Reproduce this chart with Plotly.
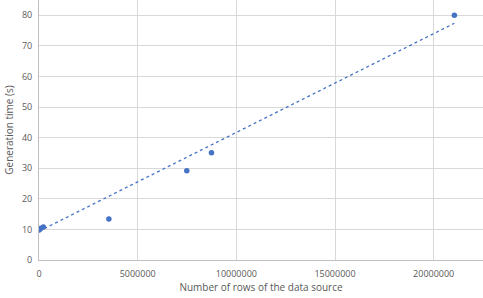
import numpy as np
import plotly.graph_objects as go

rows = [1000, 10000, 100000, 220000, 3540000, 7490000, 8740000, 21050000]
gen_time = [9.8, 10.0, 10.4, 10.8, 13.4, 29.2, 35.1, 80.0]

# linear trendline parameters
trend_intercept = 9.4
trend_slope = 3.23e-6

x_title = "Number of rows of the data source"
y_title = "Generation time (s)"

tx = np.array([min(rows), max(rows)])
ty = trend_intercept + trend_slope * tx

blue = "#4472C4"
fig = go.Figure()
fig.add_trace(go.Scatter(x=tx, y=ty, mode="lines",
                         line=dict(color=blue, width=1.3, dash="dot"),
                         hoverinfo="skip", showlegend=False))
fig.add_trace(go.Scatter(x=rows, y=gen_time, mode="markers",
                         marker=dict(color=blue, size=5.5),
                         showlegend=False))

font = "Open Sans"
fig.update_layout(
    width=483, height=298,
    margin=dict(l=39, r=0, t=0, b=38),
    plot_bgcolor="white", paper_bgcolor="white",
    font=dict(family=font, size=9, color="#595959"),
    xaxis=dict(range=[0, 22.5e6], dtick=5e6, tick0=0, tickformat="d",
               showgrid=True, gridcolor="#D9D9D9", gridwidth=1,
               zeroline=False, showline=True, linecolor="#BFBFBF", linewidth=1,
               ticks="", ticklabelstandoff=5,
               title=dict(text=x_title, font=dict(size=10, color="#595959"), standoff=2)),
    yaxis=dict(range=[0, 85], dtick=10, tick0=0,
               showgrid=True, gridcolor="#D9D9D9", gridwidth=1,
               zeroline=False, showline=True, linecolor="#BFBFBF", linewidth=1,
               ticks="", ticklabelstandoff=4,
               title=dict(text=y_title, font=dict(size=10, color="#595959"), standoff=6)),
)
fig.write_html("out.html")
